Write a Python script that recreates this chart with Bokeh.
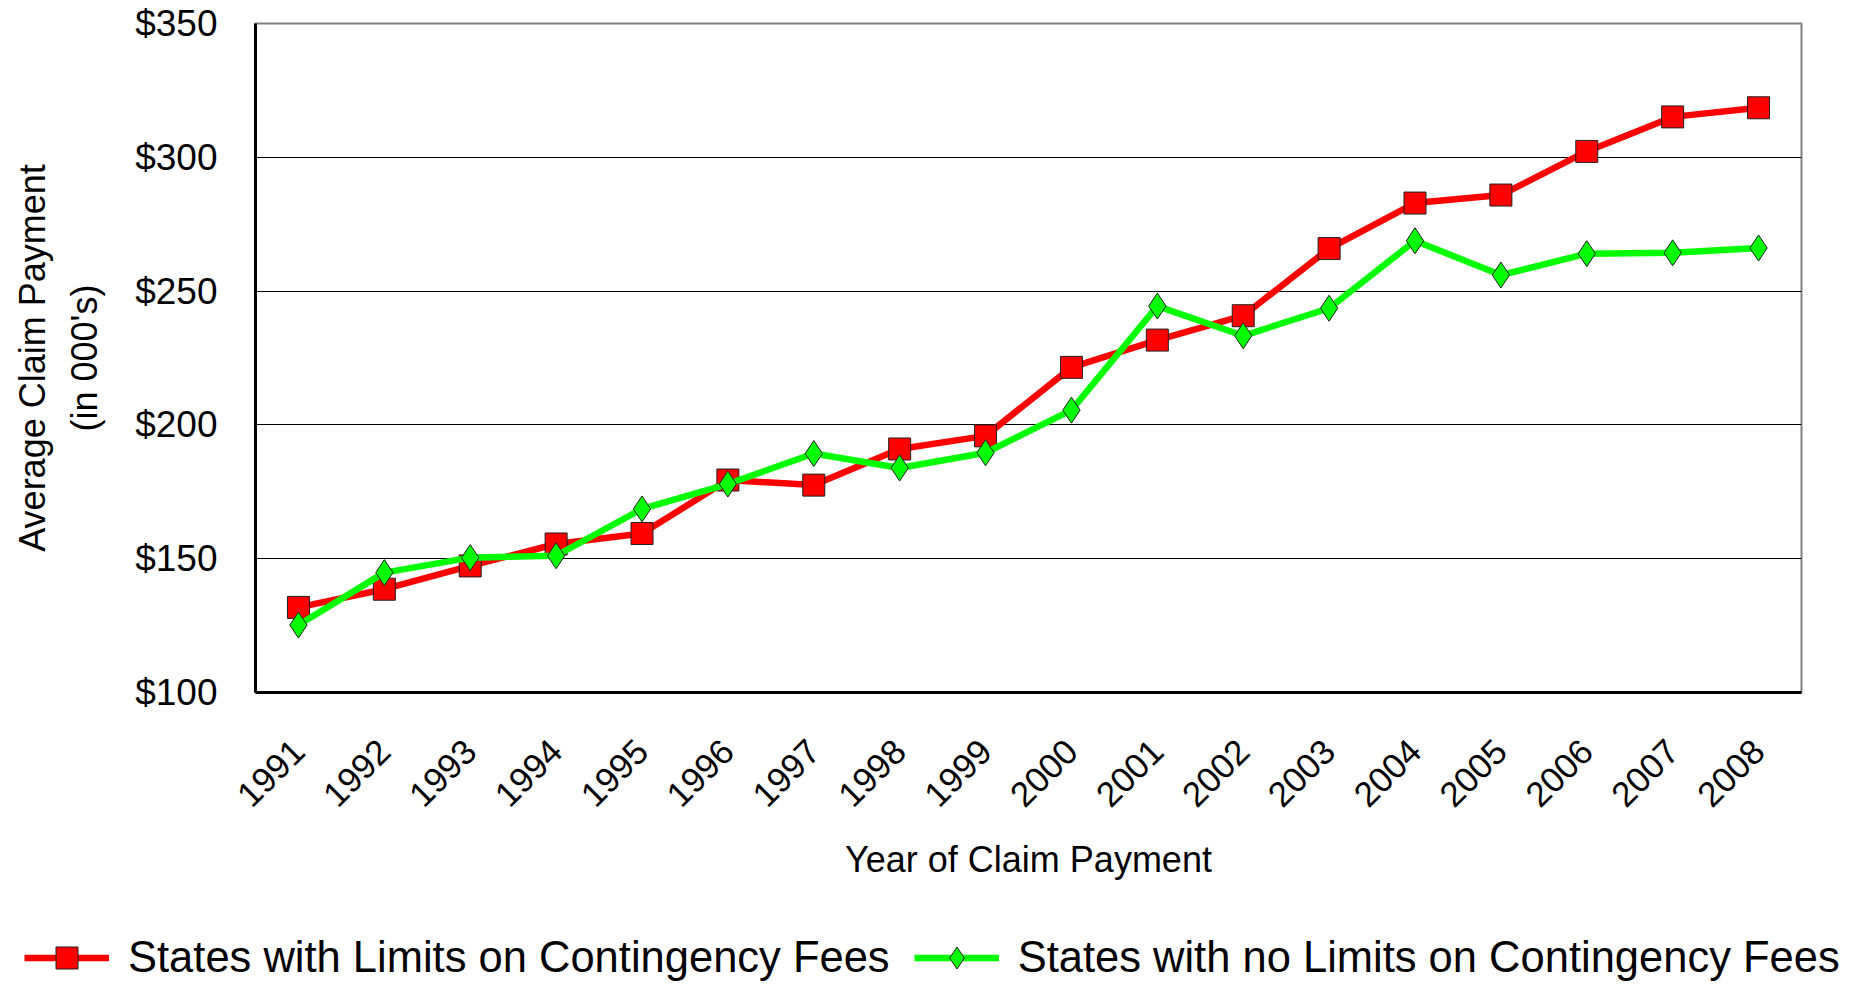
import math
from bokeh.plotting import figure
from bokeh.models import (FactorRange, Range1d, FixedTicker, NumeralTickFormatter,
                          Legend, LegendItem, ColumnDataSource)
from bokeh.embed import file_html
from bokeh.resources import INLINE

years = ["1991", "1992", "1993", "1994", "1995", "1996", "1997", "1998", "1999",
         "2000", "2001", "2002", "2003", "2004", "2005", "2006", "2007", "2008"]
limits = [131.8, 138.6, 147.3, 155.5, 159.4, 179.4, 177.5, 191.0, 195.9,
          221.5, 231.7, 240.8, 265.9, 282.9, 285.9, 302.2, 315.1, 318.5]
no_limits = [125.2, 144.8, 150.4, 151.1, 168.6, 177.9, 189.3, 183.9, 189.6,
             205.5, 244.4, 233.3, 243.6, 268.8, 256.0, 264.0, 264.3, 266.1]
y_ticks = [100, 150, 200, 250, 300, 350]
series_names = ["States with Limits on Contingency Fees",
                "States with no Limits on Contingency Fees"]

FONT = "Liberation Sans"
RED, GREEN = "#FF0000", "#00FF00"

src = ColumnDataSource(dict(year=years, limits=limits, no_limits=no_limits))

MAIN_H = 920
p = figure(width=1862, height=MAIN_H, output_backend="svg", toolbar_location=None,
           x_range=FactorRange(*years, range_padding=0), y_range=Range1d(100, 350),
           min_border_left=255, min_border_right=61, min_border_top=23,
           min_border_bottom=MAIN_H - 692, background_fill_color="white",
           border_fill_color="white")

p.outline_line_color = "#808080"
p.outline_line_width = 2

p.xgrid.grid_line_color = None
p.ygrid.grid_line_color = "black"
p.ygrid.grid_line_width = 1
p.yaxis.ticker = FixedTicker(ticks=y_ticks)
p.yaxis.formatter = NumeralTickFormatter(format="$0")

for ax in (p.xaxis[0], p.yaxis[0]):
    ax.axis_line_color = "black"
    ax.axis_line_width = 3
    ax.major_tick_line_color = None
    ax.minor_tick_line_color = None
    ax.major_label_text_font = FONT
    ax.major_label_text_font_size = "36px"
    ax.major_label_text_color = "black"
    ax.axis_label_text_font = FONT
    ax.axis_label_text_font_size = "36px"
    ax.axis_label_text_font_style = "normal"
    ax.axis_label_text_color = "black"

p.yaxis.major_label_text_font_size = "37px"
p.yaxis.major_label_standoff = 32
p.yaxis.axis_label = "Average Claim Payment\n(in 000's)"
p.yaxis.axis_label_text_line_height = 1.28
p.yaxis.axis_label_standoff = 27

p.xaxis.major_label_orientation = math.pi / 4
p.xaxis.major_label_text_font_size = "35px"
p.xaxis.major_label_standoff = 47
p.xaxis.axis_label = "Year of Claim Payment"
p.xaxis.axis_label_standoff = 18


def draw_series(fig):
    r1 = fig.line("year", "limits", source=src, line_color=RED, line_width=6.5)
    m1 = fig.scatter("year", "limits", source=src, marker="square", size=22,
                     fill_color=RED, line_color="#202020", line_width=1)
    r2 = fig.line("year", "no_limits", source=src, line_color=GREEN, line_width=6.5)
    m2 = fig.scatter("year", "no_limits", source=src, marker="diamond", size=26,
                     fill_color=GREEN, line_color="#202020", line_width=1)
    return r1, m1, r2, m2


draw_series(p)

# legend strip below the chart (its own frame holds only the legend)
LEG_H = 62
lf = figure(width=1862, height=LEG_H, output_backend="svg", toolbar_location=None,
            x_range=FactorRange(*years, range_padding=0), y_range=Range1d(0, 1),
            min_border=0, min_border_left=0, min_border_right=0,
            min_border_top=0, min_border_bottom=0,
            x_axis_location=None, y_axis_location=None,
            background_fill_color="white", border_fill_color="white")
lf.outline_line_color = None
lf.grid.grid_line_color = None
l1, k1, l2, k2 = draw_series(lf)

legend = Legend(items=[LegendItem(label=series_names[0], renderers=[l1, k1]),
                       LegendItem(label=series_names[1], renderers=[l2, k2])],
                orientation="horizontal", location=(24, -3),
                padding=0, margin=0, spacing=24, label_standoff=19,
                glyph_width=85, glyph_height=55, label_height=40,
                border_line_color=None, background_fill_alpha=0,
                label_text_font=FONT, label_text_font_size="43.5px",
                label_text_color="black")
lf.add_layout(legend, "center")

open("out.html", "w").write(file_html([p, lf], INLINE))
